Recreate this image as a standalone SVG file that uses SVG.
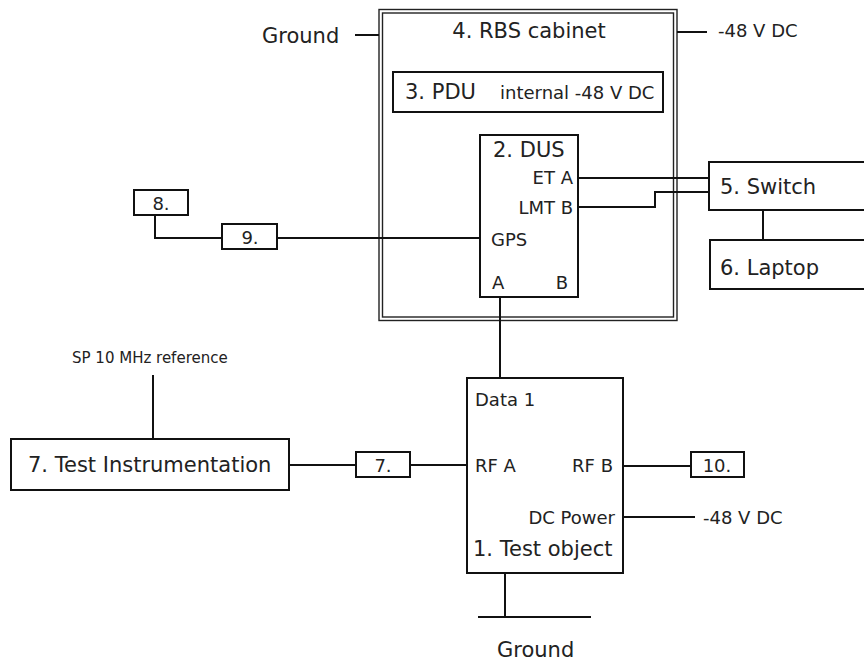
<svg xmlns="http://www.w3.org/2000/svg" width="864" height="662" viewBox="0 0 864 662">
<style>
.b{fill:#fff;stroke:#111;stroke-width:2}
.d{fill:none;stroke:#222;stroke-width:1.4}
.c{fill:none;stroke:#111;stroke-width:2}
text{font-family:"DejaVu Sans",Verdana,sans-serif;fill:#222}
.l{font-size:21px}
.m{font-size:18px}
.s{font-size:15px}
.e{text-anchor:end}
.mid{text-anchor:middle}
</style>
<rect width="864" height="662" fill="#fff"/>
<g id="cabinet">
<rect class="d" x="379" y="9.5" width="298" height="311"/>
<rect class="d" x="382.5" y="13" width="291" height="304"/>
<text class="l mid" x="529" y="38">4. RBS cabinet</text>
</g>
<g id="pdu">
<rect class="b" x="393" y="72" width="270" height="40"/>
<text class="l" x="405" y="99">3. PDU</text>
<text class="m" x="500" y="99">internal -48 V DC</text>
</g>
<g id="dus">
<rect class="b" x="480" y="135" width="98" height="162"/>
<text class="l" x="493" y="157">2. DUS</text>
<text class="m e" x="573" y="184">ET A</text>
<text class="m e" x="573" y="214">LMT B</text>
<text class="m" x="491" y="246">GPS</text>
<text class="m" x="492" y="289">A</text>
<text class="m e" x="568" y="289">B</text>
</g>
<g id="switch">
<rect class="b" x="709" y="162" width="170" height="48"/>
<text class="l" x="720" y="194">5. Switch</text>
</g>
<g id="laptop">
<rect class="b" x="710" y="240" width="170" height="49"/>
<text class="l" x="720" y="275">6. Laptop</text>
</g>
<g id="box8">
<rect class="b" x="134" y="190" width="54" height="25"/>
<text class="m mid" x="161" y="210">8.</text>
</g>
<g id="box9">
<rect class="b" x="222" y="224" width="55" height="25"/>
<text class="m mid" x="250" y="244">9.</text>
</g>
<g id="testinstr">
<rect class="b" x="11" y="439" width="278" height="51"/>
<text class="l" x="28" y="472">7. Test Instrumentation</text>
</g>
<g id="box7">
<rect class="b" x="356" y="452" width="54" height="25"/>
<text class="m mid" x="383" y="472">7.</text>
</g>
<g id="testobject">
<rect class="b" x="467" y="378" width="156" height="195"/>
<text class="m" x="475" y="406">Data 1</text>
<text class="m" x="475" y="472">RF A</text>
<text class="m e" x="613" y="472">RF B</text>
<text class="m e" x="615" y="524">DC Power</text>
<text class="l" x="473" y="556">1. Test object</text>
</g>
<g id="box10">
<rect class="b" x="691" y="452" width="53" height="25"/>
<text class="m mid" x="717" y="472">10.</text>
</g>
<g id="labels">
<text class="l" x="262" y="43">Ground</text>
<text class="m" x="718" y="37">-48 V DC</text>
<text class="s" x="72" y="363">SP 10 MHz reference</text>
<text class="m" x="703" y="524">-48 V DC</text>
<text class="l" x="497" y="657">Ground</text>
</g>
<g id="connectors">
<path class="c" d="M355 35H379"/>
<path class="c" d="M677 32H707"/>
<path class="c" d="M578 178H709"/>
<path class="c" d="M578 207H655V192H709"/>
<path class="c" d="M763 210V240"/>
<path class="c" d="M155 215V238H222"/>
<path class="c" d="M277 238H480"/>
<path class="c" d="M500 297V378"/>
<path class="c" d="M153 375V439"/>
<path class="c" d="M289 465H356"/>
<path class="c" d="M410 465H467"/>
<path class="c" d="M623 466H691"/>
<path class="c" d="M623 517H695"/>
<path class="c" d="M505 573V617"/>
<path class="c" d="M478 617H591"/>
</g>
</svg>
